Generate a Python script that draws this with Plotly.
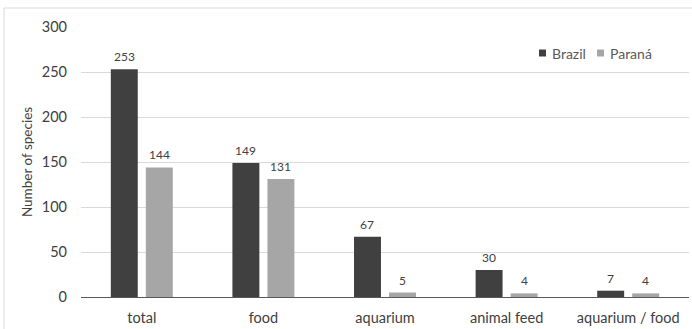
import plotly.graph_objects as go

categories = ["total", "food", "aquarium", "animal feed", "aquarium / food"]
series_names = ["Brazil", "Paraná"]
brazil = [253, 149, 67, 30, 7]
parana = [144, 131, 5, 4, 4]
y_ticks = [0, 50, 100, 150, 200, 250, 300]

FONT = "Lato"
TEXT_COLOR = "#404040"
COLORS = ["#404040", "#a6a6a6"]

# plot area geometry (px) used to place pixel-sized decorations in paper space
L, R, T, B, W, H = 81, 3, 27, 32, 692, 329
PW, PH = W - L - R, H - T - B


def px_x(px):
    return (px - L) / PW


def px_y(py):
    return (H - B - py) / PH


fig = go.Figure()
for name, vals, col in zip(series_names, [brazil, parana], COLORS):
    fig.add_trace(go.Bar(
        name=name, x=categories, y=vals,
        marker=dict(color=col, line=dict(width=0)),
        cliponaxis=False,
    ))

# value labels above each bar
slot = PW / len(categories) * (1 - 0.424) / 2
annotations = []
for k, vals in enumerate([brazil, parana]):
    shift = (k - 0.5) * slot
    for c, v in zip(categories, vals):
        annotations.append(dict(
            x=c, y=v, xref="x", yref="y", text=str(v), showarrow=False,
            xshift=shift, yshift=3, yanchor="bottom",
            font=dict(family=FONT, size=12, color=TEXT_COLOR),
        ))

# legend: small squares followed by series names
shapes = [dict(
    type="rect", xref="paper", yref="paper",
    x0=-0.1266, x1=1.01, y0=-0.13, y1=px_y(8),
    line=dict(color="#d9d9d9", width=1), fillcolor="rgba(0,0,0,0)",
    layer="below",
)]
legend_px = [539, 597]
for name, col, lx in zip(series_names, COLORS, legend_px):
    shapes.append(dict(
        type="rect", xref="paper", yref="paper",
        x0=px_x(lx), x1=px_x(lx + 7), y0=px_y(56.5), y1=px_y(49.5),
        line=dict(width=0), fillcolor=col,
    ))
    annotations.append(dict(
        x=px_x(lx + 11), y=px_y(53), xref="paper", yref="paper",
        text=name, showarrow=False, xanchor="left", yanchor="middle",
        font=dict(family=FONT, size=14, color="#595959"),
    ))

fig.update_layout(
    width=W, height=H,
    margin=dict(l=L, r=R, t=T, b=B),
    paper_bgcolor="white", plot_bgcolor="white",
    barmode="group", bargap=0.424, bargroupgap=0.23,
    font=dict(family=FONT, size=14, color=TEXT_COLOR),
    showlegend=False,
    xaxis=dict(
        showgrid=False, showline=True, linecolor="#595959", linewidth=1,
        ticks="", ticklabelstandoff=8,
        tickfont=dict(family=FONT, size=14.5, color=TEXT_COLOR),
    ),
    yaxis=dict(
        range=[0, 300], tickvals=y_ticks, showgrid=True, gridcolor="#d9d9d9",
        gridwidth=1, zeroline=False, showline=False, ticks="",
        ticklabelstandoff=13,
        tickfont=dict(family=FONT, size=14.5, color=TEXT_COLOR),
        title=dict(text="Number of species", standoff=6,
                   font=dict(family=FONT, size=13.5, color=TEXT_COLOR)),
    ),
    shapes=shapes,
    annotations=annotations,
)

fig.write_html("out.html")
